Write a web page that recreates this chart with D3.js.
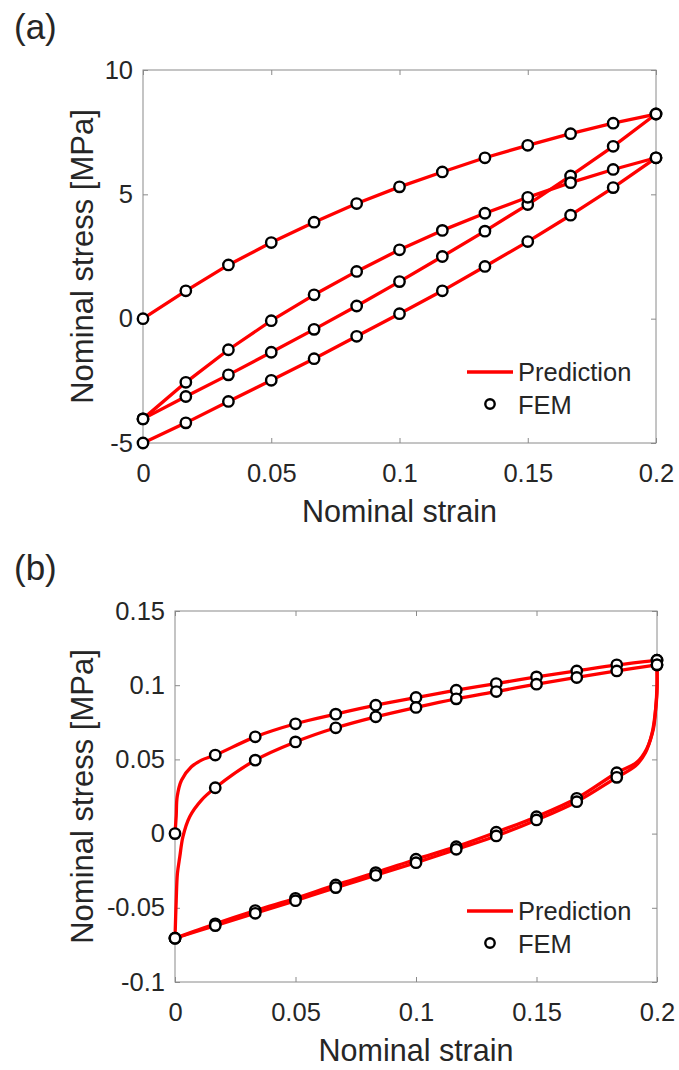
<!DOCTYPE html>
<html>
<head>
<meta charset="utf-8">
<script src="https://cdn.jsdelivr.net/npm/d3@7"></script>
<style>
  body { margin: 0; background: #fff; }
  text { font-family: "Liberation Sans", Arial, sans-serif; fill: #262626; }
</style>
</head>
<body>
<svg id="chart" width="679" height="1070"></svg>
<script>
// strain steps of the FEM points
var strain = [0, 0.0167, 0.0333, 0.05, 0.0667, 0.0833, 0.1, 0.1167, 0.1333, 0.15, 0.1667, 0.1833, 0.2]

// panel (a) - stress [MPa] at each strain step
var aLoad1 = [0, 1.12, 2.16, 3.06, 3.88, 4.63, 5.3, 5.9, 6.47, 6.97, 7.44, 7.86, 8.23]
var aUnload1 = [-4.03, -3.13, -2.26, -1.35, -0.43, 0.51, 1.49, 2.5, 3.52, 4.59, 5.74, 6.93, 8.23]
var aLoad2 = [-4.03, -2.56, -1.25, -0.08, 0.96, 1.9, 2.77, 3.55, 4.24, 4.88, 5.47, 6.0, 6.47]
var aUnload2 = [-5, -4.19, -3.33, -2.48, -1.61, -0.71, 0.2, 1.12, 2.1, 3.1, 4.16, 5.27, 6.47]

// panel (b) - FEM stress [MPa]
var bLoad1 = [0, 0.0529, 0.0652, 0.074, 0.0805, 0.0865, 0.0917, 0.0966, 0.1011, 0.1056, 0.1096, 0.1137, 0.1168]
var bUnload1 = [-0.0705, -0.0608, -0.0519, -0.0436, -0.0346, -0.0263, -0.0173, -0.0088, 0.0009, 0.0114, 0.0238, 0.041, 0.1168]
var bLoad2 = [-0.0705, 0.0309, 0.0495, 0.0618, 0.0713, 0.0787, 0.085, 0.0908, 0.0957, 0.1007, 0.1052, 0.1096, 0.1137]
var bUnload2 = [-0.0705, -0.062, -0.0537, -0.0452, -0.0364, -0.0281, -0.0196, -0.0106, -0.0016, 0.0092, 0.0215, 0.0379, 0.1137]

// panel (b) - prediction curves [strain, stress]
var bPredLoad1 = [[0, 0], [0.0005, 0.012], [0.0009, 0.0248], [0.0027, 0.036], [0.0068, 0.045], [0.011, 0.0495],
    [0.0167, 0.0529], [0.0333, 0.0652], [0.05, 0.074], [0.0667, 0.0805], [0.0833, 0.0865], [0.1, 0.0917],
    [0.1167, 0.0966], [0.1333, 0.1011], [0.15, 0.1056], [0.1667, 0.1096], [0.1833, 0.1137], [0.2, 0.1168]]
var bPredUnload1 = [[0.2, 0.1168], [0.2, 0.1], [0.1995, 0.085], [0.1985, 0.0705], [0.1957, 0.057], [0.1916, 0.048],
    [0.1833, 0.041], [0.1667, 0.0238], [0.15, 0.0114], [0.1333, 0.0009], [0.1167, -0.0088], [0.1, -0.0173],
    [0.0833, -0.0263], [0.0667, -0.0346], [0.05, -0.0436], [0.0333, -0.0519], [0.0167, -0.0608], [0, -0.0705]]
var bPredLoad2 = [[0, -0.0705], [0.0005, -0.045], [0.001, -0.027], [0.002, -0.0155], [0.0033, -0.002], [0.0061, 0.0114],
    [0.011, 0.0226], [0.0167, 0.0309], [0.0333, 0.0495], [0.05, 0.0618], [0.0667, 0.0713], [0.0833, 0.0787],
    [0.1, 0.085], [0.1167, 0.0908], [0.1333, 0.0957], [0.15, 0.1007], [0.1667, 0.1052], [0.1833, 0.1096], [0.2, 0.1137]]
var bPredUnload2 = [[0.2, 0.1137], [0.2, 0.095], [0.1993, 0.082], [0.198, 0.068], [0.1952, 0.0545], [0.191, 0.0455],
    [0.1833, 0.0379], [0.1667, 0.0215], [0.15, 0.0092], [0.1333, -0.0016], [0.1167, -0.0106], [0.1, -0.0196],
    [0.0833, -0.0281], [0.0667, -0.0364], [0.05, -0.0452], [0.0333, -0.0537], [0.0167, -0.062], [0, -0.0705]]

var xTicks = [0, 0.05, 0.1, 0.15, 0.2]
var aYTicks = [-5, 0, 5, 10]
var bYTicks = [-0.1, -0.05, 0, 0.05, 0.1, 0.15]

var svg = d3.select('#chart')
var axisColor = '#8a8a8a'

function toPairs(ys) {
    return ys.map(function (v, i) { return [strain[i], v] })
}

function drawPanel(p) {
    var x = d3.scaleLinear().domain([0, 0.2]).range([p.left, p.right])
    var y = d3.scaleLinear().domain(p.ydomain).range([p.bottom, p.top])
    var g = svg.append('g')

    // box
    g.append('rect')
        .attr('x', p.left).attr('y', p.top)
        .attr('width', p.right - p.left).attr('height', p.bottom - p.top)
        .attr('fill', 'none').attr('stroke', axisColor).attr('stroke-width', 1)

    var fmt = function (d) { return String(d) }
    var xb = g.append('g').attr('transform', 'translate(0,' + p.bottom + ')')
        .call(d3.axisBottom(x).tickValues(xTicks).tickSize(-5).tickSizeOuter(0).tickPadding(21).tickFormat(fmt))
    var xt = g.append('g').attr('transform', 'translate(0,' + p.top + ')')
        .call(d3.axisTop(x).tickValues(xTicks).tickSize(-5).tickSizeOuter(0).tickFormat(''))
    var yl = g.append('g').attr('transform', 'translate(' + p.left + ',0)')
        .call(d3.axisLeft(y).tickValues(p.yticks).tickSize(-5).tickSizeOuter(0).tickPadding(10).tickFormat(fmt))
    var yr = g.append('g').attr('transform', 'translate(' + p.right + ',0)')
        .call(d3.axisRight(y).tickValues(p.yticks).tickSize(-5).tickSizeOuter(0).tickFormat(''))
    ;[xb, xt, yl, yr].forEach(function (a) {
        a.select('.domain').remove()
        a.selectAll('line').attr('stroke', axisColor)
        a.selectAll('text').attr('font-size', 25.5).attr('fill', '#262626')
            .attr('font-family', '"Liberation Sans", Arial, sans-serif')
    })

    // axis titles
    g.append('text')
        .attr('x', (p.left + p.right) / 2).attr('y', p.bottom + 79)
        .attr('text-anchor', 'middle').attr('font-size', 30.5)
        .text('Nominal strain')
    g.append('text')
        .attr('transform', 'translate(93,' + ((p.top + p.bottom) / 2) + ') rotate(-90)')
        .attr('text-anchor', 'middle').attr('font-size', 31)
        .text('Nominal stress [MPa]')
    g.append('text')
        .attr('x', 14).attr('y', p.top - 31)
        .attr('font-size', 35)
        .text(p.tag)

    // prediction lines
    var line = d3.line().x(d => x(d[0])).y(d => y(d[1])).curve(p.curve)
    g.append('g').selectAll('path')
        .data(p.pred)
        .enter()
        .append('path')
        .attr('d', line)
        .attr('fill', 'none')
        .attr('stroke', '#ff0000')
        .attr('stroke-width', 3.3)
        .attr('stroke-linejoin', 'round')

    // FEM circles
    g.append('g').selectAll('g')
        .data(p.fem)
        .enter()
        .append('g')
        .selectAll('circle')
        .data(d => toPairs(d))
        .enter()
        .append('circle')
        .attr('cx', d => x(d[0]))
        .attr('cy', d => y(d[1]))
        .attr('r', 5.2)
        .attr('fill', '#fff')
        .attr('stroke', '#000')
        .attr('stroke-width', 2.4)

    // legend
    var lg = g.append('g')
    lg.append('line')
        .attr('x1', 467).attr('x2', 513)
        .attr('y1', p.legendY).attr('y2', p.legendY)
        .attr('stroke', '#ff0000').attr('stroke-width', 3.3)
    lg.append('text')
        .attr('x', 518).attr('y', p.legendY + 9)
        .attr('font-size', 25.5).text('Prediction')
    lg.append('circle')
        .attr('cx', 490).attr('cy', p.legendY + 32).attr('r', 4.7)
        .attr('fill', '#fff').attr('stroke', '#000').attr('stroke-width', 2.4)
    lg.append('text')
        .attr('x', 518).attr('y', p.legendY + 42)
        .attr('font-size', 25.5).text('FEM')
}

drawPanel({
    tag: '(a)', left: 143, right: 656, top: 70, bottom: 443,
    ydomain: [-5, 10], yticks: aYTicks,
    pred: [aLoad1, aUnload1, aLoad2, aUnload2].map(toPairs),
    fem: [aLoad1, aUnload1, aLoad2, aUnload2],
    curve: d3.curveLinear,
    legendY: 372
})

drawPanel({
    tag: '(b)', left: 175, right: 657, top: 611, bottom: 982,
    ydomain: [-0.1, 0.15], yticks: bYTicks,
    pred: [bPredLoad1, bPredUnload1, bPredLoad2, bPredUnload2],
    fem: [bLoad1, bUnload1, bLoad2, bUnload2],
    curve: d3.curveCatmullRom.alpha(0.5),
    legendY: 911
})
</script>
</body>
</html>
